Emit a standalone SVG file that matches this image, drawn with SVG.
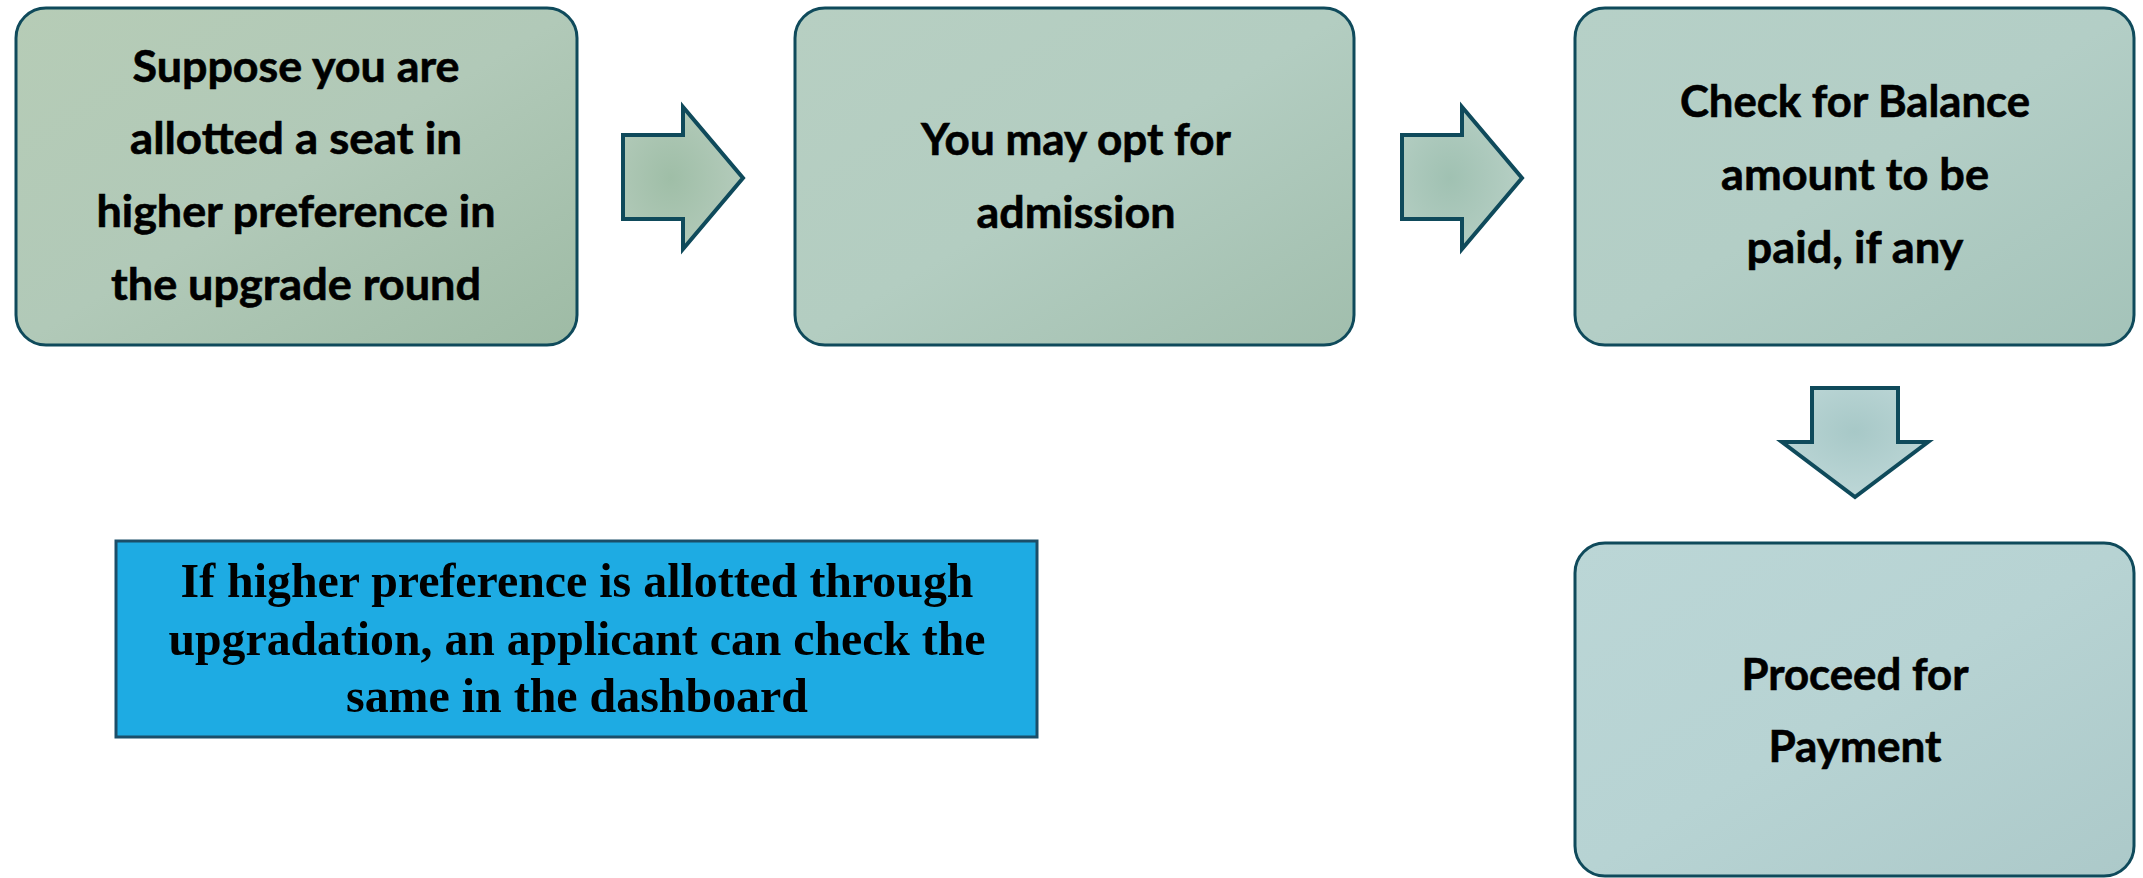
<svg xmlns="http://www.w3.org/2000/svg" width="2143" height="878" viewBox="0 0 2143 878">
<defs>
<linearGradient id="g1" x1="0" y1="0" x2="1" y2="1"><stop offset="0" stop-color="#b6ccb6"/><stop offset="0.5" stop-color="#b1c9b8"/><stop offset="1" stop-color="#9ebba5"/></linearGradient>
<linearGradient id="g2" x1="0" y1="0" x2="1" y2="1"><stop offset="0" stop-color="#b7cfc2"/><stop offset="0.5" stop-color="#b3cdc1"/><stop offset="1" stop-color="#a1bead"/></linearGradient>
<linearGradient id="g3" x1="0" y1="0" x2="1" y2="1"><stop offset="0" stop-color="#b6d0c7"/><stop offset="0.5" stop-color="#b3cec6"/><stop offset="1" stop-color="#a4c3b9"/></linearGradient>
<linearGradient id="g4" x1="0" y1="0" x2="1" y2="1"><stop offset="0" stop-color="#bbd6d6"/><stop offset="0.5" stop-color="#b7d3d3"/><stop offset="1" stop-color="#acc9c9"/></linearGradient>
<radialGradient id="ra" cx="0.4" cy="0.5" r="0.6"><stop offset="0" stop-color="#9fbea7"/><stop offset="1" stop-color="#b4cbbb"/></radialGradient>
<radialGradient id="rb" cx="0.4" cy="0.5" r="0.6"><stop offset="0" stop-color="#a0c1b2"/><stop offset="1" stop-color="#b6cfc4"/></radialGradient>
<radialGradient id="rc" cx="0.5" cy="0.4" r="0.6"><stop offset="0" stop-color="#a7c8c7"/><stop offset="1" stop-color="#bdd7d7"/></radialGradient>
</defs>
<style>
.box{stroke:#0f4a5b;stroke-width:3}
.arr{stroke:#0f4a5b;stroke-width:4;stroke-linejoin:miter}
.t{font-family:Lato,"Open Sans","Liberation Sans",sans-serif;font-weight:bold;font-size:44px;fill:#000;stroke:#000;stroke-width:0.6;text-anchor:middle}
.s{font-family:"Liberation Serif","DejaVu Serif",serif;font-weight:bold;font-size:49px;fill:#000;text-anchor:middle}
</style>
<g id="connectors">
<path class="arr" fill="url(#ra)" d="M623,135 H683 V107 L743,178 L683,249 V219 H623 Z"/>
<path class="arr" fill="url(#rb)" d="M1402,135 H1462 V107 L1522,178 L1462,249 V219 H1402 Z"/>
<path class="arr" fill="url(#rc)" d="M1812,388 H1898 V442 H1928 L1855,497 L1782,442 H1812 Z"/>
</g>
<g id="node1">
<rect class="box" x="16" y="8" width="561" height="337" rx="30" fill="url(#g1)"/>
<text class="t" x="296" y="82" textLength="327" lengthAdjust="spacingAndGlyphs">Suppose you are</text>
<text class="t" x="296" y="154" textLength="332" lengthAdjust="spacingAndGlyphs">allotted a seat in</text>
<text class="t" x="296" y="227" textLength="399" lengthAdjust="spacingAndGlyphs">higher preference in</text>
<text class="t" x="296" y="300" textLength="370" lengthAdjust="spacingAndGlyphs">the upgrade round</text>
</g>
<g id="node2">
<rect class="box" x="795" y="8" width="559" height="337" rx="30" fill="url(#g2)"/>
<text class="t" x="1076" y="155" textLength="310" lengthAdjust="spacingAndGlyphs">You may opt for</text>
<text class="t" x="1076" y="228" textLength="199" lengthAdjust="spacingAndGlyphs">admission</text>
</g>
<g id="node3">
<rect class="box" x="1575" y="8" width="559" height="337" rx="30" fill="url(#g3)"/>
<text class="t" x="1855" y="117" textLength="350" lengthAdjust="spacingAndGlyphs">Check for Balance</text>
<text class="t" x="1855" y="190" textLength="268" lengthAdjust="spacingAndGlyphs">amount to be</text>
<text class="t" x="1855" y="263" textLength="217" lengthAdjust="spacingAndGlyphs">paid, if any</text>
</g>
<g id="node4">
<rect class="box" x="1575" y="543" width="559" height="333" rx="30" fill="url(#g4)"/>
<text class="t" x="1855" y="690" textLength="227" lengthAdjust="spacingAndGlyphs">Proceed for</text>
<text class="t" x="1855" y="762" textLength="173" lengthAdjust="spacingAndGlyphs">Payment</text>
</g>
<g id="note">
<rect x="116" y="541" width="921" height="196" fill="#1eabe3" stroke="#1b4e69" stroke-width="3"/>
<text class="s" x="577" y="597" textLength="793" lengthAdjust="spacingAndGlyphs">If higher preference is allotted through</text>
<text class="s" x="577" y="655" textLength="817" lengthAdjust="spacingAndGlyphs">upgradation, an applicant can check the</text>
<text class="s" x="577" y="712" textLength="462" lengthAdjust="spacingAndGlyphs">same in the dashboard</text>
</g>
</svg>
